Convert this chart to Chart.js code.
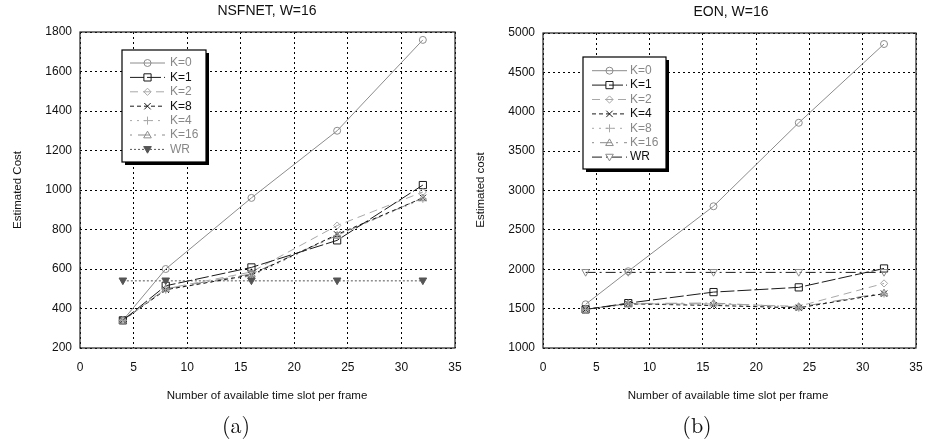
<!DOCTYPE html>
<html>
<head>
<meta charset="utf-8">
<script src="https://cdn.jsdelivr.net/npm/chart.js@4"></script>
<style>
  html, body { margin: 0; padding: 0; background: #fff; }
  #wrap { position: relative; width: 925px; height: 443px; overflow: hidden; }
  .cv { position: absolute; top: 0; }
</style>
</head>
<body>
<div id="wrap">
  <canvas id="c1" class="cv" width="462" height="443" style="left:0px"></canvas>
  <canvas id="c2" class="cv" width="463" height="443" style="left:462px"></canvas>
</div>
<script>
// ---------- DATA ----------
const xSlots = [4, 8, 16, 24, 32];

// (a) NSFNET, W=16
const nsfLabels = ['K=0', 'K=1', 'K=2', 'K=8', 'K=4', 'K=16', 'WR'];
const nsfK0  = [340, 600, 960, 1300, 1760];
const nsfK1  = [340, 515, 608, 745, 1025];
const nsfK2  = [340, 500, 585, 820, 990];
const nsfK8  = [340, 495, 570, 775, 960];
const nsfK4  = [340, 495, 565, 770, 955];
const nsfK16 = [340, 500, 575, 770, 960];
const nsfWR  = [540, 540, 540, 540, 540];

// (b) EON, W=16
const eonLabels = ['K=0', 'K=1', 'K=2', 'K=4', 'K=8', 'K=16', 'WR'];
const eonK0  = [1555, 1975, 2800, 3860, 4860];
const eonK1  = [1490, 1570, 1710, 1770, 2010];
const eonK2  = [1490, 1560, 1560, 1530, 1820];
const eonK4  = [1490, 1560, 1540, 1510, 1690];
const eonK8  = [1490, 1560, 1555, 1510, 1690];
const eonK16 = [1490, 1565, 1570, 1520, 1700];
const eonWR  = [1960, 1960, 1960, 1960, 1960];

const xTicks = [0, 5, 10, 15, 20, 25, 30, 35];
const nsfYTicks = [200, 400, 600, 800, 1000, 1200, 1400, 1600, 1800];
const eonYTicks = [1000, 1500, 2000, 2500, 3000, 3500, 4000, 4500, 5000];

// ---------- STYLES ----------
const GRAY = '#8c8c8c', LGRAY = '#a8a8a8', DARK = '#1a1a1a';
const styleK0  = { color: GRAY,  dash: [],            marker: 'circle',   r: 3.5, fill: false };
const styleK1  = { color: DARK,  dash: [14, 3],       marker: 'rect',     r: 3.6, fill: false };
const styleK2  = { color: LGRAY, dash: [8, 5],        marker: 'diamond',  r: 3.6, fill: false };
const styleKx  = { color: DARK,  dash: [4, 3],        marker: 'crossRot', r: 3.2, fill: false };
const styleKp  = { color: LGRAY, dash: [2, 5],        marker: 'cross',    r: 4,   fill: false };
const styleK16 = { color: GRAY,  dash: [2, 6, 12, 4], marker: 'triangle', r: 3.8, fill: false };
const styleWRa = { color: '#555', dash: [2, 2],       marker: 'triDown',  r: 3.8, fill: true };
const styleWRb = { color: DARK,  dash: [10, 4, 2, 4], marker: 'triDown',  r: 3.8, fill: false, markerColor: GRAY };

function drawMarker(ctx, type, x, y, r, color, fill) {
  ctx.save();
  ctx.setLineDash([]);
  ctx.strokeStyle = color;
  ctx.fillStyle = color;
  ctx.lineWidth = 1;
  ctx.beginPath();
  switch (type) {
    case 'circle': ctx.arc(x, y, r, 0, Math.PI * 2); break;
    case 'rect': ctx.rect(x - r, y - r, 2 * r, 2 * r); break;
    case 'diamond':
      ctx.moveTo(x, y - r); ctx.lineTo(x + r, y); ctx.lineTo(x, y + r); ctx.lineTo(x - r, y); ctx.closePath(); break;
    case 'crossRot':
      ctx.moveTo(x - r, y - r); ctx.lineTo(x + r, y + r); ctx.moveTo(x + r, y - r); ctx.lineTo(x - r, y + r); break;
    case 'cross':
      ctx.moveTo(x - r, y); ctx.lineTo(x + r, y); ctx.moveTo(x, y - r); ctx.lineTo(x, y + r); break;
    case 'triangle':
      ctx.moveTo(x, y - r); ctx.lineTo(x + r, y + r * 0.75); ctx.lineTo(x - r, y + r * 0.75); ctx.closePath(); break;
    case 'triDown':
      ctx.moveTo(x, y + r); ctx.lineTo(x + r, y - r * 0.75); ctx.lineTo(x - r, y - r * 0.75); ctx.closePath(); break;
  }
  if (fill) ctx.fill();
  ctx.stroke();
  ctx.restore();
}

function makeDataset(label, values, st) {
  return {
    label: label,
    data: xSlots.map((x, i) => ({ x: x, y: values[i] })),
    borderColor: st.color,
    borderWidth: 1,
    borderDash: st.dash,
    pointRadius: 0,
    fill: false,
    tension: 0,
    _st: st
  };
}

// plugin: markers, frame, legend, texts
const decor = {
  id: 'decor',
  afterDatasetsDraw(chart, args, opts) {
    const ctx = chart.ctx;
    const xs = chart.scales.x, ys = chart.scales.y;
    chart.data.datasets.forEach(ds => {
      const st = ds._st;
      ds.data.forEach(p => {
        drawMarker(ctx, st.marker, xs.getPixelForValue(p.x), ys.getPixelForValue(p.y), st.r, st.markerColor || st.color, st.fill);
      });
    });
    const a = chart.chartArea;
    ctx.save();
    ctx.setLineDash([]);
    ctx.strokeStyle = '#222';
    ctx.lineWidth = 1.2;
    ctx.strokeRect(a.left, a.top, a.right - a.left, a.bottom - a.top);
    ctx.restore();

    // legend box
    const L = opts.legend;
    ctx.save();
    ctx.fillStyle = '#000';
    ctx.fillRect(L.x + 3, L.y + 3, L.w, L.h);
    ctx.fillStyle = '#fff';
    ctx.fillRect(L.x, L.y, L.w, L.h);
    ctx.strokeStyle = '#000';
    ctx.lineWidth = 1.2;
    ctx.strokeRect(L.x, L.y, L.w, L.h);
    ctx.font = '12px "Liberation Sans", Arial, sans-serif';
    ctx.textBaseline = 'middle';
    ctx.textAlign = 'left';
    chart.data.datasets.forEach((ds, i) => {
      const st = ds._st;
      const y = L.rowY + i * L.rowH;
      ctx.save();
      ctx.strokeStyle = st.color;
      ctx.lineWidth = 1;
      ctx.setLineDash(st.dash);
      ctx.beginPath();
      ctx.moveTo(L.lx1, y); ctx.lineTo(L.lx2, y);
      ctx.stroke();
      ctx.restore();
      drawMarker(ctx, st.marker, (L.lx1 + L.lx2) / 2, y, st.r, st.markerColor || st.color, st.fill);
      ctx.fillStyle = (st.color === DARK || st.color === '#555') ? '#111' : '#888';
      if (ds.label === 'WR') ctx.fillStyle = L.wrText;
      ctx.fillText(ds.label, L.tx, y);
    });
    ctx.restore();

    // titles
    const T = opts.texts;
    ctx.save();
    ctx.fillStyle = '#111';
    ctx.textAlign = 'center';
    ctx.textBaseline = 'middle';
    ctx.font = '14px "Liberation Sans", Arial, sans-serif';
    ctx.fillText(T.title, T.titleX, T.titleY);
    ctx.font = '11.5px "Liberation Sans", Arial, sans-serif';
    ctx.fillText(T.xTitle, T.xTitleX, T.xTitleY);
    ctx.font = '22px "Latin Modern Roman", "DejaVu Serif", "Liberation Serif", serif';
    ctx.fillText(T.sub, T.subX, T.subY);
    ctx.font = '11.5px "Liberation Sans", Arial, sans-serif';
    ctx.translate(T.yTitleX, T.yTitleY);
    ctx.rotate(-Math.PI / 2);
    ctx.fillText(T.yTitle, 0, 0);
    ctx.restore();
  }
};

function makeChart(id, labels, series, styles, yTicks, yW, pad, legend, texts) {
  const datasets = labels.map((lb, i) => makeDataset(lb, series[i], styles[i]));
  const tickFont = { family: '"Liberation Sans", Arial, sans-serif', size: 12 };
  return new Chart(document.getElementById(id), {
    type: 'line',
    data: { datasets: datasets },
    plugins: [decor],
    options: {
      responsive: false,
      animation: false,
      devicePixelRatio: 1,
      layout: { padding: pad },
      plugins: {
        legend: { display: false },
        tooltip: { enabled: false },
        decor: { legend: legend, texts: texts }
      },
      scales: {
        x: {
          type: 'linear',
          min: xTicks[0], max: xTicks[xTicks.length - 1],
          afterBuildTicks: s => { s.ticks = xTicks.map(v => ({ value: v })); },
          afterFit: s => { s.height = 95; s.paddingLeft = 0; s.paddingRight = 0; },
          ticks: { font: tickFont, color: '#111', padding: 12, maxRotation: 0, autoSkip: false, callback: v => String(v) },
          grid: { color: '#000', lineWidth: 1, drawTicks: false },
          border: { display: false, dash: [2, 3] }
        },
        y: {
          type: 'linear',
          min: yTicks[0], max: yTicks[yTicks.length - 1],
          afterBuildTicks: s => { s.ticks = yTicks.map(v => ({ value: v })); },
          afterFit: s => { s.width = yW; s.paddingTop = 0; s.paddingBottom = 0; },
          ticks: { font: tickFont, color: '#111', padding: 8, autoSkip: false, callback: v => String(v) },
          grid: { color: '#000', lineWidth: 1, drawTicks: false },
          border: { display: false, dash: [2, 3] }
        }
      }
    }
  });
}

makeChart('c1', nsfLabels,
  [nsfK0, nsfK1, nsfK2, nsfK8, nsfK4, nsfK16, nsfWR],
  [styleK0, styleK1, styleK2, styleKx, styleKp, styleK16, styleWRa],
  nsfYTicks, 80, { left: 0, top: 32, right: 7, bottom: 0 },
  { x: 122, y: 50, w: 84, h: 112, rowY: 63, rowH: 14.4, lx1: 130, lx2: 165, tx: 170, wrText: '#888' },
  { title: 'NSFNET, W=16', titleX: 267, titleY: 11, xTitle: 'Number of available time slot per frame', xTitleX: 267, xTitleY: 396,
    sub: '(a)', subX: 236, subY: 426, yTitle: 'Estimated Cost', yTitleX: 18, yTitleY: 190 });

makeChart('c2', eonLabels,
  [eonK0, eonK1, eonK2, eonK4, eonK8, eonK16, eonWR],
  [styleK0, styleK1, styleK2, styleKx, styleKp, styleK16, styleWRb],
  eonYTicks, 81, { left: 0, top: 33, right: 9, bottom: 0 },
  { x: 121, y: 57, w: 83, h: 112, rowY: 70.7, rowH: 14.4, lx1: 130, lx2: 165, tx: 168, wrText: '#111' },
  { title: 'EON, W=16', titleX: 269, titleY: 12, xTitle: 'Number of available time slot per frame', xTitleX: 266, xTitleY: 396,
    sub: '(b)', subX: 235, subY: 426, yTitle: 'Estimated cost', yTitleX: 19, yTitleY: 190 });
</script>
</body>
</html>
